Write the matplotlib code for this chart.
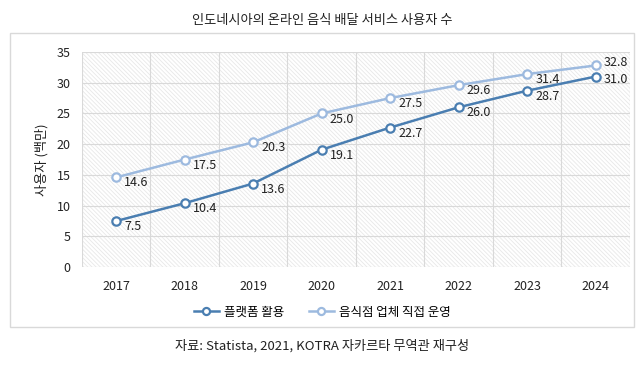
import matplotlib
matplotlib.use("Agg")
import matplotlib.pyplot as plt
from matplotlib.patches import Rectangle

plt.rcParams['font.family'] = ['Noto Sans CJK KR', 'DejaVu Sans']
plt.rcParams['hatch.linewidth'] = 0.6

years = ['2017', '2018', '2019', '2020', '2021', '2022', '2023', '2024']
platform = [7.5, 10.4, 13.6, 19.1, 22.7, 26.0, 28.7, 31.0]
direct = [14.6, 17.5, 20.3, 25.0, 27.5, 29.6, 31.4, 32.8]
series_names = ['플랫폼 활용', '음식점 업체 직접 운영']
title = '인도네시아의 온라인 음식 배달 서비스 사용자 수'
ylabel = '사용자 (백만)'
source = '자료: Statista, 2021, KOTRA 자카르타 무역관 재구성'

c_dark = '#4a7eb1'
c_light = '#9dbadf'

fig = plt.figure(figsize=(6.44, 3.66), dpi=100)
fig.patch.set_facecolor('white')

# outer frame
fig.patches.append(Rectangle((0.0155, 0.107), 0.9685, 0.803, transform=fig.transFigure,
                             fill=False, edgecolor='#d9d9d9', linewidth=1.0))

ax = fig.add_axes([0.127, 0.270, 0.851, 0.588])
x = list(range(len(years)))
ax.set_xlim(-0.5, len(years) - 0.5)
ax.set_ylim(0, 35)
ax.set_yticks(range(0, 36, 5))
ax.set_xticks(x)
ax.set_xticklabels(years)

# hatched background
ax.add_patch(Rectangle((0, 0), 1, 1, transform=ax.transAxes, facecolor='white',
                       edgecolor='#e8e8e8', hatch='\\\\\\\\\\\\\\\\', linewidth=0, zorder=0))

for yv in range(0, 36, 5):
    ax.axhline(yv, color='#d9d9d9', linewidth=0.8, zorder=1)
for xv in [i + 0.5 for i in range(-1, len(years))]:
    ax.axvline(xv, color='#d9d9d9', linewidth=0.8, zorder=1)

for s in ax.spines.values():
    s.set_visible(False)
ax.tick_params(axis='both', length=0, labelsize=9, colors='#222222')
ax.tick_params(axis='x', pad=9)
ax.tick_params(axis='y', pad=8)

l1, = ax.plot(x, platform, color=c_dark, linewidth=1.8, marker='o', markersize=6,
              markerfacecolor='white', markeredgecolor=c_dark, markeredgewidth=1.6,
              zorder=3, label=series_names[0])
l2, = ax.plot(x, direct, color=c_light, linewidth=1.8, marker='o', markersize=6,
              markerfacecolor='white', markeredgecolor=c_light, markeredgewidth=1.6,
              zorder=3, label=series_names[1])

n = len(years)
for i, (xi, v) in enumerate(zip(x, platform)):
    dy = -4 if i < n - 1 else -2
    ax.annotate(f'{v:.1f}', (xi, v), xytext=(6, dy), textcoords='offset points',
                ha='left', va='center', fontsize=9, color='#222222', zorder=4)
for i, (xi, v) in enumerate(zip(x, direct)):
    dy = -4 if i < n - 1 else 2
    ax.annotate(f'{v:.1f}', (xi, v), xytext=(6, dy), textcoords='offset points',
                ha='left', va='center', fontsize=9, color='#222222', zorder=4)

ax.set_ylabel(ylabel, fontsize=9.5, color='#222222', labelpad=6)

fig.legend(handles=[l1, l2], loc='center', bbox_to_anchor=(0.5, 0.147), ncol=2,
           frameon=False, fontsize=9, handlelength=2.0, columnspacing=2.0,
           handletextpad=0.4, markerscale=0.85)

fig.text(0.5, 0.945, title, ha='center', va='center', fontsize=9.5, color='#222222')
fig.text(0.5, 0.055, source, ha='center', va='center', fontsize=9.5, color='#222222')

fig.savefig('out.png', dpi=100, facecolor='white')
